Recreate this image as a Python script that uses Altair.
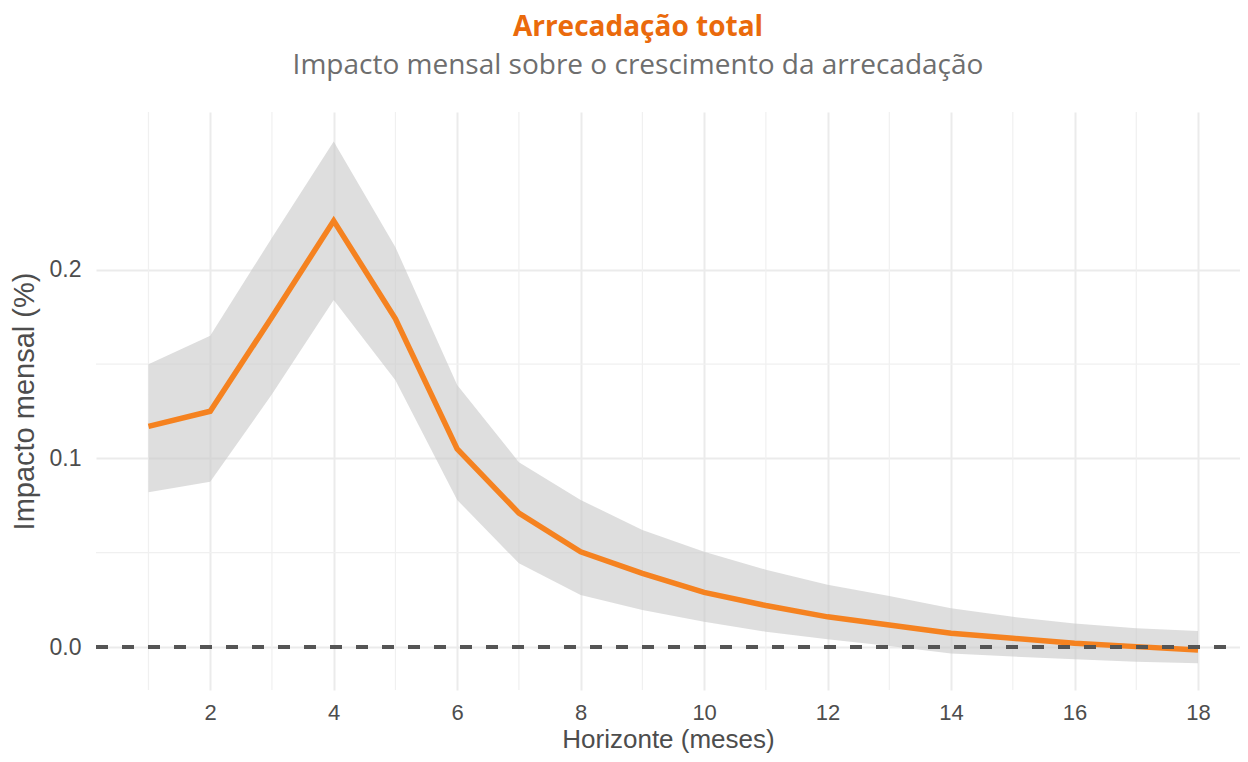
import altair as alt
import pandas as pd

horizon = list(range(1, 19))
impact = [0.117, 0.125, 0.175, 0.226, 0.174, 0.105, 0.071, 0.0505, 0.039, 0.029,
          0.022, 0.016, 0.0117, 0.0073, 0.0046, 0.0020, 0.0002, -0.0016]
upper = [0.150, 0.165, 0.217, 0.268, 0.212, 0.139, 0.098, 0.078, 0.062, 0.0505,
         0.041, 0.033, 0.027, 0.0205, 0.016, 0.0125, 0.010, 0.0085]
lower = [0.082, 0.0876, 0.134, 0.184, 0.1415, 0.078, 0.0444, 0.0276, 0.0196, 0.0134,
         0.0081, 0.0041, 0.0005, -0.0034, -0.0051, -0.0065, -0.0078, -0.0086]

x_major = [2, 4, 6, 8, 10, 12, 14, 16, 18]
x_minor = [1, 3, 5, 7, 9, 11, 13, 15, 17]
y_major = [0.0, 0.1, 0.2]
y_minor = [0.05, 0.15]

df = pd.DataFrame({"h": horizon, "v": impact, "lo": lower, "hi": upper})
df_xminor = pd.DataFrame({"x": x_minor})
df_yminor = pd.DataFrame({"y": y_minor})

xscale = alt.Scale(domain=[0.15, 18.68], nice=False, zero=False)
yscale = alt.Scale(domain=[-0.0228, 0.2837], nice=False, zero=False)

AX_FONT = "Liberation Sans"
GRID = "#EBEBEB"

xaxis = alt.Axis(values=x_major, title="Horizonte (meses)", grid=True, gridColor=GRID,
                 gridWidth=2, ticks=False, domain=False, labelFont=AX_FONT,
                 labelFontSize=22, labelColor="#4D4D4D", labelPadding=12,
                 titleFont=AX_FONT, titleFontSize=26, titleFontWeight="normal",
                 titleColor="#4D4D4D", titlePadding=3, format="d")
yaxis = alt.Axis(values=y_major, title="Impacto mensal (%)", grid=True, gridColor=GRID,
                 gridWidth=2, ticks=False, domain=False, labelFont=AX_FONT,
                 labelFontSize=23, labelColor="#4D4D4D", labelPadding=15,
                 titleFont=AX_FONT, titleFontSize=29, titleFontWeight="normal",
                 titleColor="#4D4D4D", titlePadding=10, format=".1f")

minor_x = alt.Chart(df_xminor).mark_rule(color="#F0F0F0", strokeWidth=1.2).encode(
    x=alt.X("x:Q", scale=xscale, axis=xaxis)
)
minor_y = alt.Chart(df_yminor).mark_rule(color="#F0F0F0", strokeWidth=1.2).encode(
    y=alt.Y("y:Q", scale=yscale, axis=yaxis)
)

band = alt.Chart(df).mark_area(color="#C8C8C8", opacity=0.6).encode(
    x=alt.X("h:Q", scale=xscale),
    y=alt.Y("lo:Q", scale=yscale),
    y2="hi:Q",
)
line = alt.Chart(df).mark_line(color="#F58220", strokeWidth=5.5).encode(
    x=alt.X("h:Q", scale=xscale),
    y=alt.Y("v:Q", scale=yscale),
)
zero = alt.Chart(df).mark_rule(color="#555555", strokeWidth=2.5, strokeDash=[12, 14],
                               strokeDashOffset=12).encode(
    y=alt.datum(0, scale=yscale)
)

chart = alt.layer(minor_x, minor_y, band, line, zero).properties(
    width=1144,
    height=578,
    padding={"left": 88, "top": 104, "right": 0, "bottom": 64},
    autosize=alt.AutoSizeParams(type="none"),
    background="white",
    title=alt.TitleParams(
        text="Arrecadação total",
        subtitle="Impacto mensal sobre o crescimento da arrecadação",
        anchor="middle",
        font="Open Sans",
        fontSize=28,
        fontWeight="bold",
        color="#EA6A0C",
        subtitleFont="Open Sans",
        subtitleFontSize=28,
        subtitleColor="#6E6E6E",
        subtitlePadding=10,
        offset=31,
        dx=-30,
    ),
).configure_view(strokeWidth=0, stroke="transparent")

chart.save("out.html", embed_options={"renderer": "svg", "actions": False})
